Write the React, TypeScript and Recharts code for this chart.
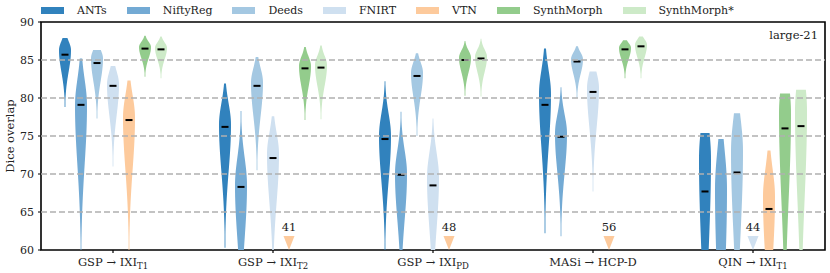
import React from "react";
import { ComposedChart, Bar, XAxis, YAxis, ReferenceLine, ReferenceArea } from "recharts";

const FONT = "'DejaVu Serif', serif";

const methods = ["ANTs", "NiftyReg", "Deeds", "FNIRT", "VTN", "SynthMorph", "SynthMorph*"];
const colors = ["#3182bd", "#73aad4", "#a4c8e2", "#cfe0f0", "#fdca9c", "#93cc8c", "#cdeac8"];

const taskSources = ["GSP", "GSP", "GSP", "MASi", "QIN"];
const taskTargets = ["IXI", "IXI", "IXI", "HCP-D", "IXI"];
const taskSubs = ["T1", "T2", "PD", "", "T1"];

const yTicks = [60, 65, 70, 75, 80, 85, 90];
const gridValues = [65, 70, 75, 80, 85];
const Y_MIN = 60;
const Y_MAX = 90;

// per task: [min, max, median, mode]; median only when it falls below the axis
const ants = [[78.8, 87.9, 85.7, 86.3], [60.3, 81.9, 76.2, 76.5], [59.5, 82.2, 74.6, 75], [62.2, 86.5, 79.1, 80.5], [40, 75.4, 67.7, 72]];
const niftyReg = [[58.5, 85.2, 79.1, 79], [50, 78.3, 68.3, 68.5], [54, 78.2, 69.9, 70], [61.8, 81.4, 74.9, 75.3], [35, 74.6, 58, 68]];
const deeds = [[77.3, 86.3, 84.6, 85.2], [70.5, 85.4, 81.6, 82], [75, 85.9, 82.9, 83.3], [80, 86.8, 84.8, 85.1], [45, 78, 70.2, 73]];
const fnirt = [[71, 84.2, 81.6, 81.8], [56, 77.6, 72.1, 72.6], [52, 77.3, 68.5, 69.5], [67.7, 83.5, 80.8, 81.3], [null, null, 44, null]];
const vtn = [[59.5, 82.3, 77.1, 77.4], [null, null, 41, null], [null, null, 48, null], [null, null, 56, null], [45, 73.1, 65.4, 67]];
const synthMorph = [[82.8, 88.2, 86.5, 86.7], [77.1, 86.7, 83.9, 84.2], [80.3, 87.5, 85, 85.3], [82.6, 87.6, 86.4, 86.6], [48, 80.6, 76, 78]];
const synthMorphStar = [[82.6, 88.1, 86.4, 86.6], [77.2, 86.9, 84, 84.3], [80.2, 87.8, 85.2, 85.4], [82.6, 88.1, 86.8, 87], [48, 81.1, 76.3, 78.3]];

const series = [ants, niftyReg, deeds, fnirt, vtn, synthMorph, synthMorphStar];

const rows = taskSources.map((_, t) => {
  const row: any = { x: t };
  series.forEach((s, i) => {
    const [lo, hi, med] = s[t];
    row["r" + i] = lo == null ? [med, Y_MIN] : [lo, hi];
  });
  return row;
});

const HALF = 6;

function Violin(props: any) {
  const { x, y, width, height, stat, color } = props;
  if (x == null || y == null) return null;
  const top = Math.min(y, y + height);
  const h = Math.abs(height);
  const cx = x + width / 2;
  const [lo, hi, med, mode] = stat;

  if (lo == null) {
    // median below the axis: marker at the bottom edge
    return (
      <g>
        <polygon points={`${cx - 5.5},${top - 14} ${cx + 5.5},${top - 14} ${cx},${top}`} fill={color} />
        <text x={cx} y={top - 19} textAnchor="middle" fontFamily={FONT} fontSize={11.5} fill="#222">
          {med}
        </text>
      </g>
    );
  }

  const toPx = (v: number) => top + (h * (hi - v)) / (hi - lo);
  const sUp = (hi - lo) * 0.13;
  const sDown = (mode - lo) * 0.38;
  const dens = (v: number) => {
    const s = v >= mode ? sUp : sDown;
    return Math.exp(-0.5 * ((v - mode) / s) ** 2);
  };
  const n = 60;
  const right: string[] = [];
  const left: string[] = [];
  for (let k = 0; k <= n; k++) {
    const v = hi - ((hi - lo) * k) / n;
    const w = Math.max(HALF * dens(v), 0.4);
    const py = toPx(v);
    right.push(`${cx + w},${py}`);
    left.unshift(`${cx - w},${py}`);
  }
  const my = toPx(med);
  return (
    <g>
      <polygon points={[...right, ...left].join(" ")} fill={color} />
      <line x1={cx - 3.5} x2={cx + 3.5} y1={my} y2={my} stroke="#000" strokeWidth={2} />
    </g>
  );
}

function TaskTick(props: any) {
  const { x, y, payload } = props;
  const t = payload.value;
  return (
    <text x={x} y={y + 11} textAnchor="middle" fontFamily={FONT} fontSize={11.5} fill="#222">
      <tspan>{`${taskSources[t]} \u2192 ${taskTargets[t]}`}</tspan>
      {taskSubs[t] && (
        <tspan dy={2.5} fontSize={8.5}>
          {taskSubs[t]}
        </tspan>
      )}
    </text>
  );
}

export default function App() {
  return (
    <div style={{ position: "absolute", left: 0, top: 0, width: 830, height: 273, background: "#fff" }}>
      <div
        style={{
          position: "absolute",
          left: 41,
          top: 4,
          display: "flex",
          alignItems: "center",
          fontFamily: FONT,
          fontSize: 11,
          color: "#222",
          whiteSpace: "nowrap",
        }}
      >
        {methods.map((m, i) => (
          <div key={m} style={{ display: "flex", alignItems: "center", marginRight: 20 }}>
            <div style={{ width: 23, height: 7, background: colors[i], marginRight: 13 }} />
            <span>{m}</span>
          </div>
        ))}
      </div>
      <div
        style={{
          position: "absolute",
          left: 10,
          top: 136,
          transform: "translate(-50%, -50%) rotate(-90deg)",
          fontFamily: FONT,
          fontSize: 11.5,
          color: "#222",
          whiteSpace: "nowrap",
        }}
      >
        Dice overlap
      </div>
      <div
        style={{
          position: "absolute",
          right: 12,
          top: 28,
          fontFamily: FONT,
          fontSize: 11.5,
          color: "#222",
        }}
      >
        large-21
      </div>
      <ComposedChart
        width={830}
        height={273}
        data={rows}
        barSize={16}
        barGap={0}
        margin={{ top: 22, right: 5, bottom: 3, left: 11 }}
      >
        <XAxis
          dataKey="x"
          type="number"
          domain={[-0.45, 4.45]}
          ticks={[0, 1, 2, 3, 4]}
          axisLine={false}
          tickLine={{ stroke: "#000", strokeWidth: 1.2 }}
          tickSize={3}
          height={20}
          interval={0}
          tick={<TaskTick />}
        />
        <YAxis
          type="number"
          domain={[Y_MIN, Y_MAX]}
          ticks={yTicks}
          allowDataOverflow
          width={30}
          axisLine={false}
          tickLine={{ stroke: "#000", strokeWidth: 1 }}
          tickSize={3}
          tickMargin={4}
          tick={{ fontFamily: FONT, fontSize: 11, fill: "#222" }}
        />
        {gridValues.map((v) => (
          <ReferenceLine key={v} y={v} stroke="#b0b0b0" strokeWidth={1.5} strokeDasharray="6 3" />
        ))}
        {methods.map((m, i) => (
          <Bar
            key={m}
            dataKey={"r" + i}
            name={m}
            fill={colors[i]}
            isAnimationActive={false}
            shape={(p: any) => <Violin {...p} stat={series[i][p.index]} color={colors[i]} />}
          />
        ))}
        <ReferenceArea y1={Y_MIN} y2={Y_MAX} fill="none" stroke="#000" strokeWidth={1.6} fillOpacity={0} />
      </ComposedChart>
    </div>
  );
}
